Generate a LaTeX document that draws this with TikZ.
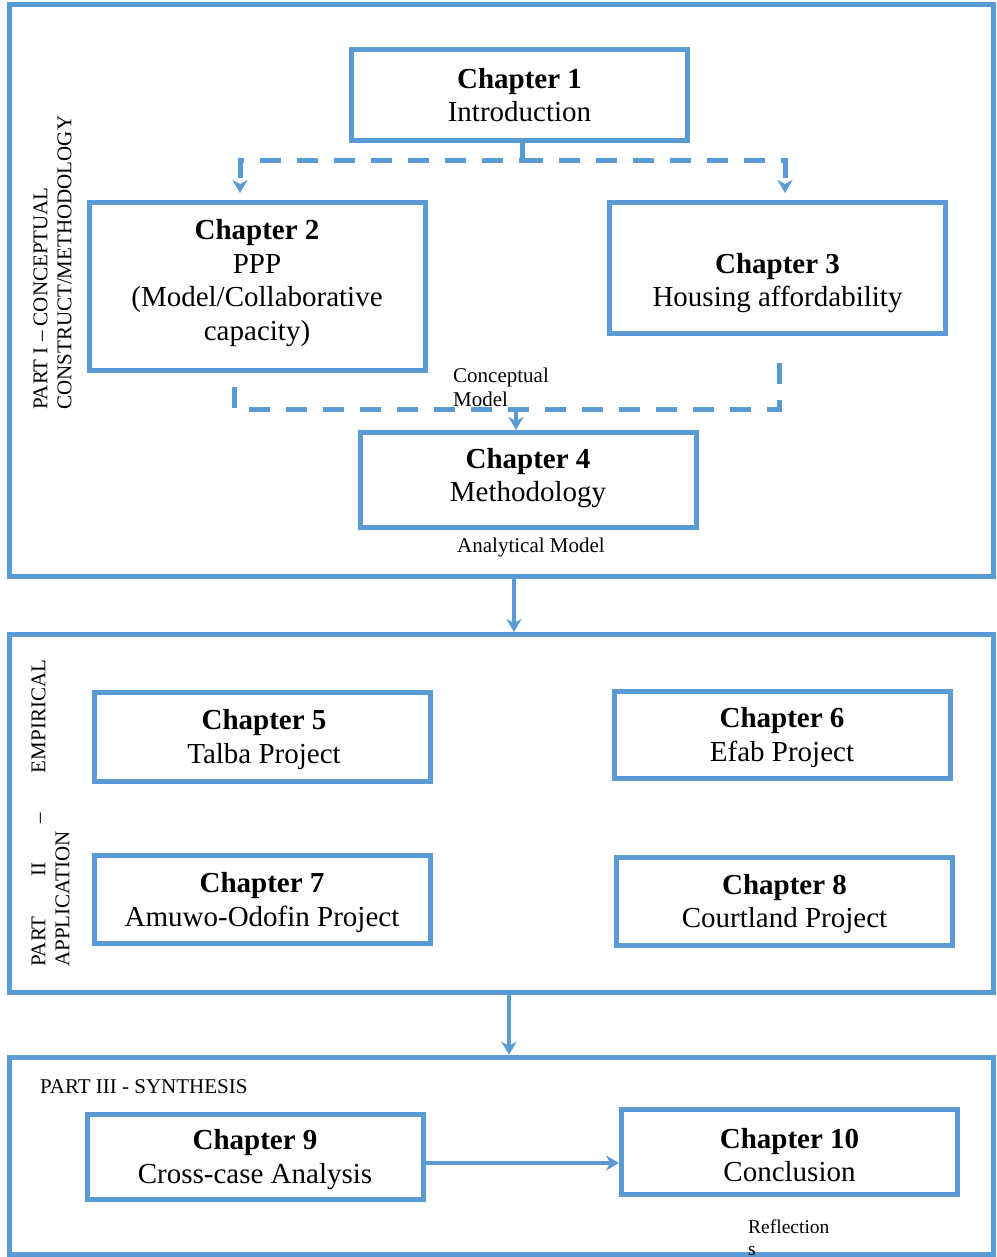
\documentclass[tikz,border=0pt]{standalone}
\usepackage{fontspec}
\setmainfont{Liberation Serif}
\usetikzlibrary{arrows.meta}
\definecolor{bl}{RGB}{91,155,213}
\begin{document}
\begin{tikzpicture}[x=1pt,y=-1pt,
  >={Stealth[length=13pt,width=15pt,inset=4pt]},
  frame/.style={draw=bl, line width=5pt, minimum width=984pt, inner sep=0pt},
  chap/.style={draw=bl, line width=5pt, inner sep=0pt, minimum width=336pt},
  ctext/.style={align=center, font=\fontsize{29}{33.5}\selectfont, inner sep=0pt},
  small/.style={font=\fontsize{21}{24}\selectfont, inner sep=0pt},
  dsh/.style={draw=bl, line width=5pt, dash pattern=on 21pt off 16pt},
  arr/.style={draw=bl, line width=4.5pt, ->},
]
\useasboundingbox (0,0) rectangle (996,1257);

% part frames
\node[frame, minimum height=571.5pt] (p1) at (501.5,290.75) {};
\node[frame, minimum height=358pt] (p2) at (501.5,813.5) {};
\node[frame, minimum height=197.5pt] (p3) at (501.5,1156) {};

% chapter boxes
\node[chap, minimum height=91pt]  (c1)  at (519.5,95) {};
\node[chap, minimum height=168pt] (c2)  at (257,286.5) {};
\node[chap, minimum height=131pt] (c3)  at (777.5,268) {};
\node[chap, minimum height=95pt]  (c4)  at (528,480) {};
\node[chap, minimum height=89pt]  (c5)  at (262,737) {};
\node[chap, minimum height=87pt]  (c6)  at (782,735) {};
\node[chap, minimum height=88pt]  (c7)  at (262,899.5) {};
\node[chap, minimum height=88pt]  (c8)  at (784.5,901.5) {};
\node[chap, minimum height=85pt]  (c9)  at (255.5,1157) {};
\node[chap, minimum height=85pt]  (c10) at (789.5,1152) {};

% chapter texts
\node[ctext] (t1)  at (519.5,95)  {\textbf{Chapter 1}\\Introduction};
\node[ctext] (t2)  at (257,283)   {\textbf{Chapter 2}\\PPP\\(Model/Collaborative\\capacity)};
\node[ctext] (t3)  at (777.5,283) {\textbf{Chapter 3}\\Housing affordability};
\node[ctext] (t4)  at (528,478)   {\textbf{Chapter 4}\\Methodology};
\node[ctext] (t5)  at (264,739.5) {\textbf{Chapter 5}\\Talba Project};
\node[ctext] (t6)  at (782,737.5) {\textbf{Chapter 6}\\Efab Project};
\node[ctext] (t7)  at (262,902.5) {\textbf{Chapter 7}\\Amuwo-Odofin Project};
\node[ctext] (t8)  at (784.5,904) {\textbf{Chapter 8}\\Courtland Project};
\node[ctext] (t9)  at (255,1159.5) {\textbf{Chapter 9}\\Cross-case Analysis};
\node[ctext] (t10) at (789.5,1155) {\textbf{Chapter 10}\\Conclusion};

% side and small labels
\node[small, rotate=90, anchor=west, align=left] (lab1) at (52.5,410)
  {PART I – CONCEPTUAL\\CONSTRUCT/METHODOLOGY};
\node[small, rotate=90, anchor=west, align=left] (lab2) at (50.5,967)
  {\hbox to 307pt{PART\hfill II\hfill –\hfill EMPIRICAL}\\APPLICATION};
\node[small, anchor=west] (lab3) at (40,1087) {PART III - SYNTHESIS};
\node[small, anchor=west, align=left] (cm) at (453,387) {Conceptual\\Model};
\node[small] (am) at (531,547) {Analytical Model};
\node[font=\fontsize{19.5}{21.5}\selectfont, inner sep=0pt, anchor=west, align=left] (rf) at (748,1237.5) {Reflection\\s};

% top dashed connectors
\coordinate (j) at (522,161);
\coordinate (l2) at (240,0);
\coordinate (l3) at (785,0);
\draw[dsh, ->, shorten >=7pt] (c1.south -| j) -- (j) -| (l2 |- c2.north);
\draw[dsh, ->, shorten >=7pt] (j) -| (l3 |- c3.north);

% bottom dashed connectors
\coordinate (b2) at (234,0);
\coordinate (b3) at (779,0);
\coordinate (bm) at (516,409);
\draw[dsh, shorten <=14pt, shorten >=18pt] (c2.south -| b2) |- (bm) -| (c3.south -| b3);
\draw[arr] (bm) -- (bm |- c4.north);

% arrows between parts
\coordinate (m1) at (514,0);
\coordinate (m2) at (509,0);
\draw[arr] (p1.south -| m1) -- (p2.north -| m1);
\draw[arr] (p2.south -| m2) -- (p3.north -| m2);

% chapter 9 to chapter 10
\coordinate (h) at (0,1163);
\draw[arr] (c9.east |- h) -- (c10.west |- h);
\end{tikzpicture}
\end{document}
